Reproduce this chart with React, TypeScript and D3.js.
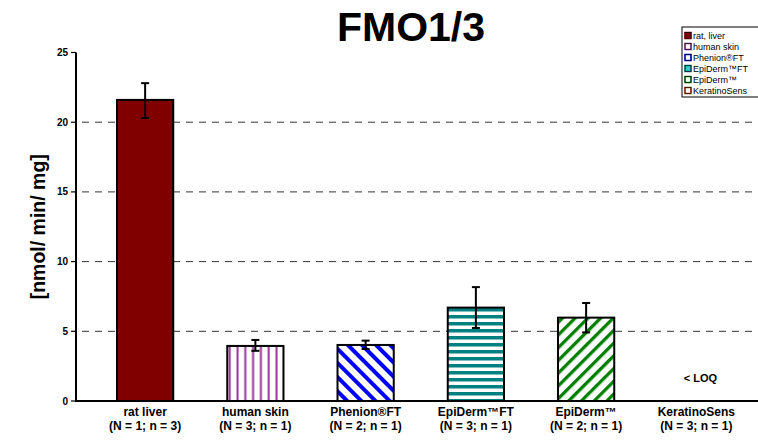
import React from "react";
import * as d3 from "d3";

const categories = ["rat liver", "human skin", "Phenion®FT", "EpiDerm™FT", "EpiDerm™", "KeratinoSens"];
const sampleLabels = ["(N = 1; n = 3)", "(N = 3; n = 1)", "(N = 2; n = 1)", "(N = 3; n = 1)", "(N = 2; n = 1)", "(N = 3; n = 1)"];
const values = [21.6, 3.95, 4.02, 6.7, 5.98, 0];
const errLow = [20.3, 3.6, 3.73, 5.24, 4.92, 0];
const errHigh = [22.8, 4.38, 4.33, 8.17, 7.03, 0];
const legendLabels = ["rat, liver", "human skin", "Phenion®FT", "EpiDerm™FT", "EpiDerm™", "KeratinoSens"];
const yTicks = [0, 5, 10, 15, 20, 25];
const belowLoq = [false, false, false, false, false, true];

const fills = ["#800000", "url(#pVert)", "url(#pDiagDown)", "url(#pHoriz)", "url(#pDiagUp)", "none"];
const legendFills = ["#800000", "#ffffff", "#ffffff", "#33cccc", "#ffffff", "#ffffff"];
const legendColors = ["#800000", "#993399", "#0000ff", "#008080", "#008000", "#cc3300"];

export default function App() {
  const W = 758, H = 448;
  const x = d3.scaleBand<string>().domain(categories).range([90, 751.5]).paddingInner(0.49).paddingOuter(0.245);
  const y = d3.scaleLinear().domain([0, 25]).range([401, 52.5]);
  const axisX = 76;
  const font = "Arial, 'Liberation Sans', Helvetica, sans-serif";
  const bw = x.bandwidth();

  return (
    <svg width={W} height={H} style={{ position: "absolute", left: 0, top: 0, background: "#fff" }} fontFamily={font}>
      <defs>
        <pattern id="pVert" patternUnits="userSpaceOnUse" width="7.8" height="10" x="0">
          <rect width="7.8" height="10" fill="#fff" />
          <rect x="2.5" width="2" height="10" fill="#993399" />
        </pattern>
        <pattern id="pHoriz" patternUnits="userSpaceOnUse" width="10" height="7">
          <rect width="10" height="7" fill="#fff" />
          <rect y="0" width="10" height="3.5" fill="#008080" />
        </pattern>
        <pattern id="pDiagDown" patternUnits="userSpaceOnUse" width="10" height="10" patternTransform="rotate(-45)">
          <rect width="10" height="10" fill="#fff" />
          <rect x="0" width="4" height="10" fill="#0000ff" />
        </pattern>
        <pattern id="pDiagUp" patternUnits="userSpaceOnUse" width="9" height="9" patternTransform="rotate(45)">
          <rect width="9" height="9" fill="#fff" />
          <rect x="0" width="3.3" height="9" fill="#008000" />
        </pattern>
      </defs>

      {/* title */}
      <text x={411} y={41} textAnchor="middle" fontSize={41} fontWeight="bold">FMO1/3</text>

      {/* y axis label */}
      <text transform={`translate(40,${(y(0) + y(25)) / 2}) rotate(-90)`} textAnchor="middle" dominantBaseline="middle" fontSize={19.5} fontWeight="bold">[nmol/ min/ mg]</text>

      {/* grid */}
      {yTicks.filter(t => t > 0 && t < 25).map(t => (
        <line key={"g" + t} x1={axisX + 6} x2={W} y1={y(t)} y2={y(t)} stroke="#000" strokeWidth={0.8} strokeDasharray="7,6" />
      ))}

      {/* bars */}
      {categories.map((c, i) => belowLoq[i] ? null : (
        <rect key={"b" + c} x={x(c)!} y={y(values[i])} width={bw} height={y(0) - y(values[i])} fill={fills[i]} stroke="#000" strokeWidth={2} />
      ))}

      {/* error bars */}
      {categories.map((c, i) => belowLoq[i] ? null : (
        <g key={"e" + c} stroke="#000" strokeWidth={2}>
          <line x1={x(c)! + bw / 2} x2={x(c)! + bw / 2} y1={y(errLow[i])} y2={y(errHigh[i])} />
          <line x1={x(c)! + bw / 2 - 4} x2={x(c)! + bw / 2 + 4} y1={y(errLow[i])} y2={y(errLow[i])} />
          <line x1={x(c)! + bw / 2 - 4} x2={x(c)! + bw / 2 + 4} y1={y(errHigh[i])} y2={y(errHigh[i])} />
        </g>
      ))}

      {/* LOQ label */}
      {categories.map((c, i) => belowLoq[i] ? (
        <text key={"l" + c} x={x(c)! + bw / 2 + 4} y={y(0) - 19} textAnchor="middle" fontSize={11} fontWeight="bold">{"< LOQ"}</text>
      ) : null)}

      {/* y axis */}
      <line x1={axisX} x2={axisX} y1={y(25)} y2={y(0) + 1} stroke="#000" strokeWidth={2} />
      {yTicks.map(t => (
        <g key={"t" + t}>
          <line x1={axisX - 5} x2={axisX} y1={y(t)} y2={y(t)} stroke="#000" strokeWidth={1.2} />
          <text x={axisX - 8} y={y(t)} textAnchor="end" dominantBaseline="central" fontSize={10} fontWeight="bold">{t}</text>
        </g>
      ))}

      {/* x axis */}
      <line x1={axisX - 1} x2={W} y1={y(0)} y2={y(0)} stroke="#000" strokeWidth={2.2} />
      {categories.map((c, i) => (
        <g key={"x" + c}>
          <text x={x(c)! + bw / 2} y={416} textAnchor="middle" fontSize={12} fontWeight="bold">{c}</text>
          <text x={x(c)! + bw / 2} y={430} textAnchor="middle" fontSize={12} fontWeight="bold">{sampleLabels[i]}</text>
        </g>
      ))}

      {/* legend */}
      <rect x={682} y={27} width={90} height={70} fill="#fff" stroke="#000" strokeWidth={1} />
      {legendLabels.map((l, i) => (
        <g key={"lg" + l}>
          <rect x={685} y={32.5 + i * 11} width={6} height={6} fill={legendFills[i]} stroke={legendColors[i]} strokeWidth={1.5} />
          <rect x={685} y={32.5 + i * 11} width={6} height={6} fill="none" stroke="#000" strokeWidth={0.6} />
          <text x={693} y={35.5 + i * 11} dominantBaseline="central" fontSize={9}>{l}</text>
        </g>
      ))}
    </svg>
  );
}
